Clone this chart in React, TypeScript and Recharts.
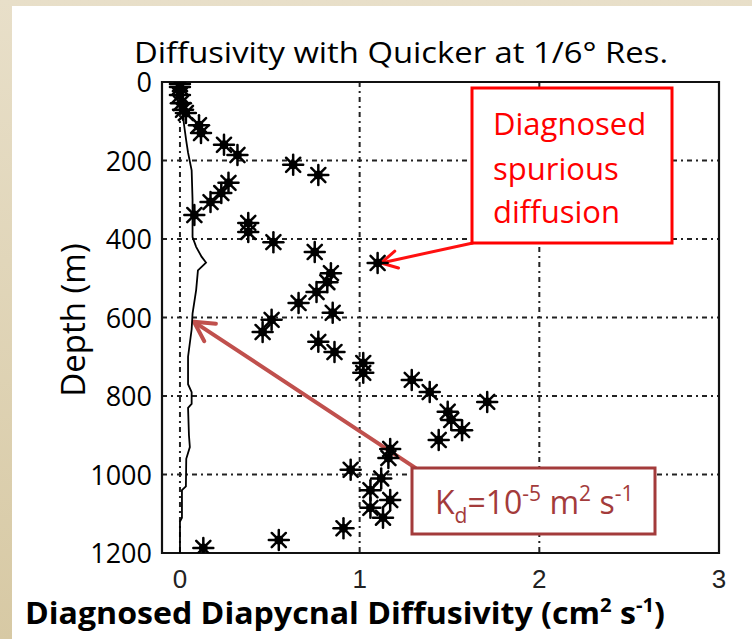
import React from 'react';
import {
    ScatterChart,
    Scatter,
    XAxis,
    YAxis,
    CartesianGrid,
    ReferenceLine,
    ReferenceArea,
} from 'recharts';

// axis ticks
const xTicks = [0, 1, 2, 3];
const depthTicks = [0, 200, 400, 600, 800, 1000, 1200];

// diagnosed diffusivity (asterisks), cm2/s vs depth in m
const starDiff = [
    0.0, 0.0, 0.0, 0.005, 0.017, 0.033, 0.106, 0.117, 0.245, 0.32,
    0.63, 0.77, 0.27, 0.23, 0.17, 0.08, 0.38, 0.38, 0.52, 0.75,
    1.1, 0.84, 0.82, 0.76, 0.66, 0.85, 0.51, 0.46, 0.77, 0.86,
    1.02, 1.02, 1.29, 1.39, 1.71, 1.49, 1.51, 1.57, 1.44, 1.17,
    1.16, 0.95, 1.12, 1.06, 1.17, 1.06, 1.13, 0.91, 0.55, 0.13,
];
const starDepth = [
    5, 13, 33, 54, 71, 79, 110, 130, 160, 186,
    211, 237, 257, 283, 306, 339, 359, 382, 408, 433,
    461, 487, 510, 535, 563, 588, 606, 637, 662, 688,
    716, 741, 759, 790, 815, 840, 861, 887, 912, 935,
    958, 988, 1010, 1040, 1065, 1085, 1110, 1137, 1167, 1187,
];

// prescribed background Kd profile
const kdDiff = [
    0.0, 0.01, 0.02, 0.035, 0.045, 0.065, 0.07, 0.07, 0.09, 0.12,
    0.145, 0.1, 0.09, 0.07, 0.065, 0.045, 0.045, 0.065, 0.065, 0.045,
    0.05, 0.055, 0.035, 0.033, 0.011, 0.011, 0.0, 0.0,
];
const kdDepth = [
    0, 50, 100, 150, 180, 225, 300, 395, 420, 445,
    460, 480, 530, 590, 630, 700, 770, 790, 820, 830,
    900, 930, 960, 1030, 1040, 1110, 1120, 1200,
];

const stars = starDiff.map((v, i) => ({ diff: v, depth: starDepth[i] }));
const profile = kdDiff.map((v, i) => ({ diff: v, depth: kdDepth[i] }));

const sans = '"Open Sans", "Noto Sans", sans-serif';

const Asterisk = (props: any) => {
    const { cx, cy } = props;
    const r = 10;
    const d = r * 0.7071;
    return (
        <g stroke="#000" strokeWidth={2.5} strokeLinecap="round">
            <line x1={cx - r} y1={cy} x2={cx + r} y2={cy} />
            <line x1={cx} y1={cy - r} x2={cx} y2={cy + r} />
            <line x1={cx - d} y1={cy - d} x2={cx + d} y2={cy + d} />
            <line x1={cx - d} y1={cy + d} x2={cx + d} y2={cy - d} />
            <circle cx={cx} cy={cy} r={4.5} fill="#000" stroke="none" />
        </g>
    );
};

const makeArrow = (color: string, width: number, head: number) => (props: any) => {
    const { x1, y1, x2, y2 } = props;
    const a = Math.atan2(y2 - y1, x2 - x1);
    const s = 0.5;
    const ax = x2 - head * Math.cos(a - s);
    const ay = y2 - head * Math.sin(a - s);
    const bx = x2 - head * Math.cos(a + s);
    const by = y2 - head * Math.sin(a + s);
    return (
        <g stroke={color} strokeWidth={width} fill="none" strokeLinecap="round" strokeLinejoin="round">
            <line x1={x1} y1={y1} x2={x2} y2={y2} />
            <polyline points={`${ax},${ay} ${x2},${y2} ${bx},${by}`} />
        </g>
    );
};

const XTick = (props: any) => {
    const { x, y, payload } = props;
    return (
        <text x={x} y={y + 27} textAnchor="middle" fontSize={26} fontFamily='"Liberation Sans", sans-serif' fill="#222">
            {payload.value}
        </text>
    );
};

const YTick = (props: any) => {
    const { x, y, payload } = props;
    return (
        <text x={x - 2} y={y + 10} textAnchor="end" fontSize={27} fontFamily={sans} fill="#000">
            {payload.value}
        </text>
    );
};

export default function App() {
    return (
        <div
            style={{
                position: 'relative',
                width: 752,
                height: 639,
                background: 'linear-gradient(180deg, #e8dfc9 0%, #d7c9a4 100%)',
                overflow: 'hidden',
            }}
        >
            <style>{'body{margin:0}'}</style>
            <div style={{ position: 'absolute', left: 12, top: 6, width: 740, height: 633, background: '#fff' }} />
            <div style={{ position: 'absolute', left: 0, top: 0 }}>
                <ScatterChart width={752} height={639} margin={{ top: 82, right: 33, bottom: 56, left: 40 }}>
                    <CartesianGrid stroke="#222" strokeWidth={2} strokeDasharray="5 4 2 4" />
                    <XAxis
                        dataKey="diff"
                        type="number"
                        domain={[-0.1, 3]}
                        ticks={xTicks}
                        allowDataOverflow
                        height={30}
                        tickLine={false}
                        axisLine={false}
                        tick={<XTick />}
                    />
                    <YAxis
                        dataKey="depth"
                        type="number"
                        domain={[0, 1200]}
                        ticks={depthTicks}
                        reversed
                        allowDataOverflow
                        width={122}
                        tickLine={false}
                        axisLine={false}
                        tick={<YTick />}
                    />
                    <ReferenceArea
                        x1={-0.1}
                        x2={3}
                        y1={0}
                        y2={1200}
                        fill="none"
                        fillOpacity={0}
                        stroke="#111"
                        strokeWidth={2.2}
                        ifOverflow="visible"
                    />
                    <Scatter
                        data={profile}
                        line={{ stroke: '#000', strokeWidth: 1.8 }}
                        lineType="joint"
                        shape={() => <g />}
                        isAnimationActive={false}
                    />
                    <Scatter data={stars} shape={<Asterisk />} isAnimationActive={false} />
                    <ReferenceLine
                        segment={[{ x: 1.63, y: 410 }, { x: 1.12, y: 461 }]}
                        ifOverflow="visible"
                        shape={makeArrow('#ff1010', 3, 18)}
                    />
                    <ReferenceLine
                        segment={[{ x: 1.31, y: 983 }, { x: 0.078, y: 611 }]}
                        ifOverflow="visible"
                        shape={makeArrow('#c0504d', 4, 22)}
                    />
                </ScatterChart>
            </div>
            <svg
                width={752}
                height={639}
                style={{ position: 'absolute', left: 0, top: 0, pointerEvents: 'none' }}
            >
                <text
                    x={134}
                    y={63}
                    fontSize={30}
                    textLength={534}
                    lengthAdjust="spacingAndGlyphs"
                    fontFamily={sans}
                    fill="#000"
                >
                    Diffusivity with Quicker at 1/6° Res.
                </text>
                <text
                    transform="translate(85,320) rotate(-90)"
                    textAnchor="middle"
                    fontSize={33}
                    fontFamily={sans}
                    fill="#000"
                >
                    Depth (m)
                </text>
                <text
                    x={25}
                    y={624}
                    fontSize={30}
                    textLength={640}
                    lengthAdjust="spacingAndGlyphs"
                    fontWeight="bold"
                    fontFamily={sans}
                    fill="#000"
                >
                    Diagnosed Diapycnal Diffusivity (cm
                    <tspan fontSize={19} dy={-12}>2</tspan>
                    <tspan dy={12}> s</tspan>
                    <tspan fontSize={19} dy={-12}>-1</tspan>
                    <tspan dy={12}>)</tspan>
                </text>

                <rect x={472} y={88} width={200} height={155} fill="#fff" stroke="#ff0000" strokeWidth={3} />
                <g fontSize={31} fontFamily={sans} fill="#ff0000">
                    <text x={493} y={135}>Diagnosed</text>
                    <text x={493} y={180}>spurious</text>
                    <text x={493} y={223}>diffusion</text>
                </g>

                <rect x={412} y={468} width={243} height={66} fill="#fff" stroke="#a33b3b" strokeWidth={3} />
                <text x={435} y={514} fontSize={32} fontFamily={sans} fill="#a33b3b">
                    K
                    <tspan fontSize={21} dy={9}>d</tspan>
                    <tspan dy={-9}>=10</tspan>
                    <tspan fontSize={21} dy={-13}>-5</tspan>
                    <tspan dy={13}> m</tspan>
                    <tspan fontSize={21} dy={-13}>2</tspan>
                    <tspan dy={13}> s</tspan>
                    <tspan fontSize={21} dy={-13}>-1</tspan>
                </text>
            </svg>
        </div>
    );
}
